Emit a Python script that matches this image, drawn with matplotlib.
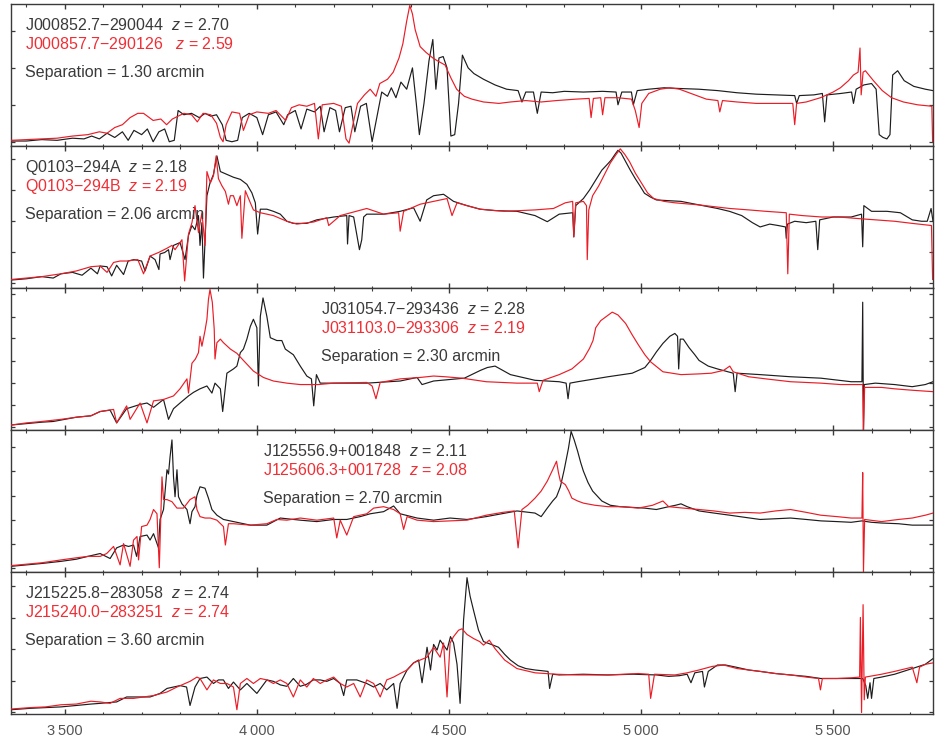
import numpy as np
import matplotlib
matplotlib.use("Agg")
import matplotlib.pyplot as plt
from matplotlib.ticker import MultipleLocator, FixedLocator, FuncFormatter

plt.rcParams['font.family'] = ['Liberation Sans', 'DejaVu Sans']
plt.rcParams['mathtext.fontset'] = 'custom'
plt.rcParams['mathtext.it'] = 'Liberation Sans:italic'
plt.rcParams['mathtext.rm'] = 'Liberation Sans'

# ---------------- data (wavelength in Angstrom, normalised flux) ----------------
p1_black = [(3360,0.035),(3400,0.035),(3440,0.045),(3480,0.04),(3520,0.055),(3550,0.05),(3570,0.07),
    (3590,0.05),(3610,0.09),(3630,0.06),(3650,0.10),(3665,0.04),(3680,0.11),(3700,0.08),(3715,0.12),
    (3730,0.03),(3745,0.10),(3760,0.12),(3772,0.03),(3785,0.04),(3795,0.25),(3810,0.22),(3830,0.23),
    (3850,0.20),(3865,0.23),(3880,0.21),(3895,0.22),(3910,0.15),(3920,0.04),(3935,0.03),(3950,0.04),
    (3962,0.20),(3980,0.23),(4000,0.20),(4015,0.08),(4030,0.22),(4050,0.24),(4070,0.15),(4080,0.22),
    (4100,0.25),(4115,0.12),(4130,0.26),(4150,0.24),(4165,0.28),(4175,0.10),(4190,0.27),(4205,0.25),
    (4215,0.10),(4230,0.27),(4245,0.28),(4255,0.10),(4270,0.28),(4285,0.30),(4300,0.03),(4312,0.20),
    (4325,0.38),(4340,0.35),(4350,0.41),(4362,0.34),(4375,0.45),(4390,0.40),(4405,0.55),(4415,0.30),
    (4423,0.08),(4435,0.30),(4448,0.60),(4458,0.75),(4466,0.40),(4474,0.62),(4485,0.63),(4495,0.55),
    (4505,0.07),(4515,0.08),(4525,0.30),(4535,0.64),(4550,0.55),(4565,0.51),(4590,0.47),(4620,0.43),
    (4650,0.40),(4680,0.39),(4690,0.31),(4700,0.38),(4720,0.38),(4730,0.23),(4740,0.38),(4770,0.375),
    (4800,0.385),(4850,0.38),(4900,0.385),(4935,0.38),(4940,0.29),(4950,0.38),(4975,0.38),(4980,0.29),
    (4990,0.39),(5020,0.40),(5060,0.41),(5100,0.405),(5150,0.40),(5200,0.39),(5250,0.375),(5300,0.365),
    (5350,0.36),(5400,0.355),(5405,0.30),(5412,0.355),(5450,0.36),(5472,0.37),(5478,0.17),(5484,0.36),
    (5520,0.37),(5548,0.38),(5553,0.30),(5560,0.40),(5580,0.43),(5600,0.44),(5612,0.40),(5620,0.08),
    (5630,0.06),(5640,0.05),(5648,0.08),(5655,0.50),(5668,0.53),(5685,0.46),(5710,0.42),(5740,0.40),
    (5760,0.39)]

p1_red = [(3360,0.04),(3400,0.045),(3440,0.05),(3480,0.055),(3520,0.07),(3560,0.08),(3590,0.10),
    (3610,0.09),(3630,0.13),(3650,0.15),(3670,0.20),(3690,0.23),(3705,0.23),(3715,0.21),(3730,0.18),
    (3750,0.19),(3765,0.15),(3780,0.19),(3795,0.21),(3810,0.23),(3830,0.22),(3845,0.17),(3860,0.23),
    (3880,0.22),(3895,0.16),(3905,0.06),(3912,0.03),(3920,0.15),(3935,0.24),(3955,0.23),(3965,0.11),
    (3980,0.22),(4000,0.24),(4030,0.23),(4050,0.25),(4075,0.18),(4090,0.27),(4110,0.29),(4130,0.28),
    (4150,0.30),(4160,0.05),(4170,0.29),(4200,0.30),(4220,0.28),(4232,0.05),(4240,0.02),(4250,0.15),
    (4262,0.30),(4280,0.36),(4295,0.40),(4310,0.35),(4320,0.44),(4340,0.47),(4355,0.52),(4370,0.62),
    (4380,0.72),(4390,0.88),(4398,0.99),(4405,0.93),(4412,0.82),(4425,0.70),(4440,0.66),(4458,0.62),
    (4470,0.60),(4490,0.57),(4505,0.48),(4520,0.40),(4540,0.35),(4560,0.33),(4590,0.31),(4630,0.30),
    (4660,0.31),(4700,0.32),(4740,0.31),(4780,0.32),(4830,0.33),(4865,0.335),(4870,0.20),(4876,0.335),
    (4895,0.34),(4900,0.22),(4906,0.34),(4940,0.34),(4975,0.33),(4985,0.25),(4995,0.13),(5002,0.30),
    (5020,0.37),(5050,0.40),(5075,0.41),(5100,0.40),(5130,0.37),(5170,0.33),(5200,0.32),(5205,0.24),
    (5212,0.32),(5250,0.31),(5300,0.30),(5350,0.30),(5395,0.30),(5400,0.15),(5405,0.30),(5430,0.31),
    (5467,0.34),(5500,0.38),(5519,0.41),(5540,0.46),(5553,0.50),(5565,0.52),(5570,0.69),(5573,0.36),
    (5578,0.52),(5584,0.53),(5605,0.46),(5628,0.39),(5652,0.34),(5683,0.31),(5720,0.29),(5757,0.28),
    (5759,0.03)]

p2_black = [(3360,0.056),(3400,0.065),(3440,0.08),(3470,0.07),(3490,0.10),(3520,0.11),(3545,0.09),
    (3568,0.14),(3585,0.10),(3592,0.155),(3610,0.15),(3622,0.085),(3635,0.16),(3653,0.095),(3665,0.19),
    (3680,0.20),(3700,0.19),(3709,0.12),(3722,0.225),(3735,0.20),(3745,0.13),(3748,0.24),(3760,0.25),
    (3770,0.27),(3774,0.20),(3783,0.30),(3800,0.32),(3813,0.20),(3822,0.37),(3831,0.44),(3839,0.41),
    (3848,0.51),(3852,0.30),(3857,0.46),(3861,0.07),(3870,0.65),(3878,0.74),(3887,0.80),(3896,0.93),
    (3905,0.82),(3922,0.80),(3939,0.78),(3957,0.765),(3974,0.73),(3987,0.67),(3996,0.60),(4002,0.38),
    (4009,0.555),(4026,0.555),(4043,0.54),(4061,0.52),(4078,0.47),(4095,0.455),(4130,0.455),(4156,0.48),
    (4200,0.50),(4234,0.51),(4236,0.31),(4240,0.51),(4252,0.50),(4267,0.27),(4273,0.34),(4278,0.50),
    (4286,0.52),(4330,0.52),(4373,0.54),(4408,0.565),(4425,0.47),(4442,0.62),(4460,0.65),(4486,0.66),
    (4512,0.61),(4547,0.58),(4581,0.555),(4620,0.545),(4677,0.54),(4724,0.51),(4756,0.467),(4787,0.52),
    (4822,0.53),(4825,0.36),(4830,0.58),(4850,0.63),(4866,0.69),(4882,0.76),(4898,0.83),(4912,0.87),
    (4922,0.90),(4932,0.94),(4940,0.97),(4948,0.95),(4960,0.89),(4972,0.83),(4985,0.77),(4997,0.72),
    (5009,0.667),(5025,0.64),(5040,0.62),(5070,0.615),(5104,0.61),(5151,0.585),(5199,0.56),(5230,0.54),
    (5262,0.51),(5290,0.46),(5310,0.43),(5335,0.45),(5357,0.44),(5376,0.43),(5378,0.35),(5381,0.45),
    (5400,0.47),(5430,0.46),(5455,0.47),(5460,0.27),(5465,0.48),(5500,0.50),(5547,0.50),(5574,0.52),
    (5577,0.29),(5580,0.58),(5600,0.54),(5640,0.54),(5675,0.53),(5706,0.48),(5730,0.47),(5745,0.47),
    (5755,0.56),(5760,0.47)]

p2_red = [(3360,0.06),(3400,0.07),(3440,0.08),(3490,0.10),(3530,0.12),(3568,0.15),(3592,0.155),
    (3610,0.11),(3627,0.18),(3644,0.19),(3662,0.19),(3690,0.20),(3705,0.10),(3722,0.225),(3744,0.25),
    (3766,0.28),(3779,0.30),(3787,0.27),(3805,0.34),(3812,0.05),(3822,0.38),(3831,0.46),(3839,0.58),
    (3848,0.39),(3857,0.53),(3865,0.30),(3870,0.82),(3879,0.74),(3887,0.79),(3894,0.93),(3900,0.77),
    (3909,0.72),(3918,0.68),(3926,0.59),(3931,0.65),(3939,0.65),(3948,0.58),(3957,0.65),(3961,0.35),
    (3970,0.685),(3983,0.60),(3991,0.55),(4009,0.53),(4043,0.51),(4078,0.47),(4104,0.45),(4148,0.465),
    (4182,0.495),(4187,0.44),(4217,0.51),(4286,0.56),(4330,0.52),(4369,0.53),(4373,0.40),(4382,0.54),
    (4425,0.59),(4460,0.61),(4495,0.63),(4508,0.51),(4521,0.60),(4547,0.58),(4581,0.555),(4645,0.54),
    (4724,0.55),(4772,0.56),(4803,0.60),(4822,0.61),(4825,0.36),(4830,0.60),(4850,0.61),(4858,0.58),
    (4860,0.20),(4864,0.55),(4874,0.65),(4890,0.72),(4905,0.80),(4920,0.88),(4935,0.94),(4946,0.98),
    (4958,0.94),(4970,0.89),(4985,0.81),(5001,0.74),(5017,0.67),(5033,0.63),(5060,0.61),(5088,0.60),
    (5151,0.585),(5231,0.56),(5280,0.55),(5325,0.54),(5378,0.53),(5382,0.10),(5386,0.52),(5420,0.51),
    (5470,0.50),(5515,0.50),(5560,0.49),(5610,0.48),(5660,0.47),(5706,0.455),(5756,0.44),(5759,0.06)]

p3_black = [(3360,0.035),(3400,0.045),(3440,0.055),(3470,0.06),(3490,0.07),(3530,0.09),(3568,0.10),
    (3592,0.13),(3618,0.14),(3635,0.05),(3661,0.15),(3696,0.18),(3714,0.19),(3731,0.16),(3757,0.215),
    (3770,0.075),(3783,0.15),(3800,0.19),(3822,0.24),(3835,0.265),(3852,0.29),(3870,0.31),(3883,0.26),
    (3891,0.33),(3905,0.29),(3911,0.13),(3922,0.40),(3939,0.43),(3948,0.45),(3957,0.545),(3965,0.57),
    (3974,0.64),(3983,0.73),(3991,0.78),(4000,0.72),(4004,0.31),(4009,0.80),(4016,0.93),(4026,0.80),
    (4035,0.65),(4052,0.63),(4065,0.63),(4074,0.57),(4087,0.545),(4095,0.53),(4113,0.45),(4130,0.38),
    (4142,0.36),(4148,0.17),(4155,0.39),(4165,0.33),(4200,0.33),(4286,0.33),(4373,0.345),(4417,0.37),
    (4430,0.32),(4460,0.345),(4540,0.365),(4582,0.42),(4600,0.44),(4620,0.45),(4640,0.42),(4660,0.39),
    (4724,0.35),(4787,0.34),(4805,0.33),(4810,0.22),(4815,0.33),(4835,0.34),(4914,0.375),(4977,0.40),
    (5010,0.44),(5025,0.49),(5040,0.55),(5057,0.61),(5075,0.66),(5088,0.68),(5095,0.66),(5098,0.43),
    (5102,0.64),(5110,0.64),(5125,0.58),(5140,0.53),(5151,0.49),(5175,0.45),(5199,0.43),(5240,0.40),
    (5245,0.27),(5250,0.40),(5310,0.39),(5389,0.375),(5468,0.365),(5547,0.34),(5575,0.34),(5577,0.90),
    (5579,0.00),(5581,0.32),(5610,0.33),(5660,0.32),(5706,0.305),(5740,0.32),(5760,0.34)]

p3_red = [(3360,0.035),(3400,0.05),(3440,0.06),(3490,0.075),(3530,0.09),(3568,0.10),(3592,0.13),
    (3627,0.145),(3635,0.05),(3661,0.17),(3670,0.075),(3696,0.19),(3714,0.05),(3731,0.205),(3757,0.215),
    (3783,0.24),(3800,0.29),(3818,0.36),(3822,0.26),(3831,0.47),(3840,0.50),(3848,0.545),(3852,0.66),
    (3857,0.59),(3865,0.70),(3870,0.78),(3874,0.92),(3878,0.99),(3884,0.90),(3889,0.71),(3891,0.50),
    (3896,0.615),(3905,0.64),(3913,0.615),(3931,0.57),(3948,0.54),(3965,0.49),(3991,0.415),(4017,0.37),
    (4043,0.345),(4078,0.33),(4113,0.32),(4160,0.32),(4200,0.33),(4286,0.335),(4300,0.31),(4310,0.22),
    (4321,0.335),(4373,0.36),(4425,0.37),(4460,0.38),(4490,0.375),(4534,0.365),(4597,0.34),(4677,0.33),
    (4730,0.33),(4735,0.27),(4745,0.35),(4787,0.39),(4820,0.43),(4850,0.50),(4866,0.575),(4875,0.63),
    (4882,0.72),(4895,0.77),(4910,0.80),(4925,0.83),(4940,0.81),(4960,0.75),(4977,0.67),(4993,0.60),
    (5010,0.53),(5025,0.48),(5057,0.41),(5104,0.39),(5150,0.395),(5183,0.40),(5215,0.42),(5231,0.45),
    (5240,0.41),(5280,0.375),(5325,0.36),(5389,0.34),(5468,0.33),(5520,0.32),(5560,0.32),(5577,0.32),
    (5579,0.00),(5582,0.30),(5626,0.30),(5660,0.29),(5706,0.28),(5760,0.27)]

p4_black = [(3360,0.04),(3400,0.05),(3440,0.06),(3490,0.075),(3530,0.09),(3560,0.11),(3592,0.13),
    (3618,0.095),(3635,0.17),(3653,0.19),(3666,0.18),(3679,0.19),(3687,0.11),(3696,0.25),(3714,0.26),
    (3722,0.225),(3731,0.27),(3744,0.17),(3748,0.37),(3757,0.44),(3766,0.72),(3770,0.69),(3774,0.81),
    (3779,0.93),(3783,0.67),(3787,0.53),(3792,0.72),(3796,0.53),(3805,0.48),(3818,0.44),(3826,0.34),
    (3831,0.425),(3839,0.46),(3844,0.54),(3852,0.60),(3865,0.59),(3874,0.52),(3883,0.44),(3896,0.40),
    (3913,0.37),(3939,0.355),(3983,0.33),(4026,0.33),(4061,0.38),(4113,0.365),(4156,0.355),(4200,0.37),
    (4234,0.37),(4269,0.39),(4295,0.41),(4330,0.425),(4356,0.465),(4373,0.41),(4417,0.38),(4460,0.365),
    (4503,0.38),(4547,0.37),(4597,0.39),(4677,0.43),(4724,0.415),(4740,0.39),(4756,0.45),(4770,0.50),
    (4780,0.53),(4790,0.60),(4800,0.72),(4811,0.87),(4818,0.99),(4826,0.93),(4835,0.85),(4843,0.77),
    (4850,0.71),(4862,0.63),(4874,0.57),(4898,0.50),(4920,0.47),(4946,0.46),(5009,0.45),(5040,0.44),
    (5072,0.46),(5090,0.47),(5104,0.48),(5120,0.46),(5151,0.43),(5190,0.415),(5231,0.40),(5270,0.385),
    (5310,0.37),(5350,0.375),(5389,0.38),(5430,0.37),(5468,0.36),(5510,0.355),(5547,0.35),(5575,0.36),
    (5600,0.35),(5626,0.345),(5670,0.34),(5706,0.33),(5740,0.33),(5760,0.33)]

p4_red = [(3360,0.045),(3400,0.055),(3440,0.065),(3490,0.085),(3530,0.10),(3560,0.11),(3592,0.11),
    (3609,0.13),(3627,0.18),(3644,0.05),(3653,0.20),(3670,0.04),(3679,0.225),(3688,0.25),(3692,0.085),
    (3700,0.32),(3714,0.33),(3722,0.37),(3731,0.44),(3740,0.41),(3746,0.03),(3753,0.67),(3757,0.51),
    (3766,0.51),(3779,0.495),(3792,0.45),(3809,0.45),(3826,0.51),(3839,0.53),(3844,0.44),(3852,0.39),
    (3865,0.38),(3879,0.38),(3896,0.365),(3913,0.32),(3918,0.19),(3926,0.34),(3939,0.34),(3983,0.33),
    (4026,0.34),(4052,0.37),(4078,0.365),(4113,0.38),(4156,0.365),(4200,0.38),(4208,0.24),(4217,0.365),
    (4234,0.26),(4252,0.39),(4286,0.41),(4304,0.45),(4330,0.46),(4356,0.44),(4373,0.41),(4382,0.30),
    (4391,0.39),(4417,0.365),(4460,0.355),(4503,0.36),(4547,0.365),(4597,0.40),(4640,0.42),(4670,0.43),
    (4680,0.17),(4690,0.44),(4705,0.47),(4724,0.52),(4740,0.57),(4756,0.64),(4770,0.72),(4780,0.78),
    (4785,0.70),(4790,0.64),(4803,0.615),(4812,0.57),(4820,0.52),(4835,0.50),(4850,0.485),(4880,0.47),
    (4914,0.46),(4950,0.46),(4993,0.45),(5030,0.47),(5057,0.50),(5072,0.46),(5110,0.45),(5151,0.44),
    (5190,0.43),(5231,0.415),(5270,0.42),(5310,0.415),(5350,0.43),(5389,0.44),(5430,0.42),(5468,0.40),
    (5510,0.39),(5547,0.38),(5575,0.38),(5577,0.70),(5579,0.00),(5582,0.37),(5626,0.355),(5670,0.37),
    (5706,0.38),(5740,0.40),(5760,0.415)]

p5_black = [(3360,0.03),(3410,0.04),(3450,0.045),(3490,0.05),(3530,0.06),(3568,0.07),(3592,0.075),
    (3635,0.085),(3661,0.12),(3696,0.12),(3722,0.12),(3748,0.145),(3766,0.18),(3783,0.19),(3800,0.20),
    (3817,0.19),(3826,0.06),(3839,0.19),(3852,0.25),(3870,0.26),(3887,0.215),(3900,0.24),(3913,0.24),
    (3926,0.18),(3939,0.225),(3957,0.17),(3974,0.215),(4000,0.145),(4026,0.24),(4043,0.23),(4061,0.205),
    (4078,0.195),(4095,0.25),(4113,0.195),(4130,0.21),(4147,0.24),(4165,0.24),(4182,0.23),(4200,0.25),
    (4217,0.215),(4226,0.13),(4234,0.24),(4260,0.24),(4286,0.215),(4304,0.19),(4321,0.215),(4338,0.17),
    (4356,0.215),(4365,0.04),(4373,0.215),(4391,0.31),(4408,0.36),(4421,0.38),(4430,0.22),(4443,0.47),
    (4452,0.31),(4460,0.49),(4469,0.45),(4477,0.52),(4495,0.45),(4504,0.545),(4512,0.50),(4521,0.35),
    (4529,0.075),(4538,0.66),(4547,0.96),(4555,0.83),(4564,0.73),(4577,0.59),(4590,0.51),(4610,0.49),
    (4629,0.47),(4645,0.42),(4660,0.38),(4680,0.34),(4700,0.32),(4724,0.31),(4758,0.30),(4762,0.18),
    (4770,0.28),(4787,0.275),(4850,0.28),(4914,0.275),(4980,0.28),(5040,0.275),(5072,0.265),(5100,0.27),
    (5120,0.28),(5130,0.22),(5140,0.29),(5160,0.30),(5165,0.19),(5175,0.30),(5199,0.345),(5220,0.345),
    (5247,0.33),(5280,0.31),(5310,0.30),(5350,0.285),(5389,0.275),(5430,0.265),(5468,0.25),(5510,0.25),
    (5547,0.25),(5577,0.25),(5585,0.20),(5590,0.11),(5596,0.22),(5600,0.11),(5606,0.25),(5626,0.26),
    (5660,0.28),(5706,0.32),(5740,0.35),(5760,0.39)]

p5_red = [(3360,0.035),(3410,0.045),(3450,0.05),(3490,0.065),(3530,0.07),(3568,0.09),(3592,0.085),
    (3618,0.075),(3644,0.11),(3679,0.11),(3705,0.12),(3731,0.13),(3766,0.155),(3792,0.19),(3809,0.21),
    (3826,0.23),(3844,0.26),(3852,0.25),(3870,0.17),(3887,0.24),(3905,0.215),(3922,0.215),(3939,0.19),
    (3948,0.03),(3957,0.215),(3974,0.25),(3991,0.215),(4009,0.25),(4026,0.24),(4043,0.215),(4061,0.24),
    (4078,0.215),(4095,0.12),(4113,0.24),(4130,0.19),(4147,0.25),(4165,0.215),(4182,0.24),(4200,0.26),
    (4217,0.215),(4234,0.19),(4252,0.215),(4269,0.12),(4286,0.24),(4304,0.215),(4321,0.12),(4338,0.24),
    (4356,0.26),(4373,0.285),(4391,0.31),(4408,0.36),(4425,0.38),(4443,0.40),(4460,0.47),(4477,0.40),
    (4486,0.50),(4495,0.12),(4503,0.50),(4512,0.545),(4525,0.59),(4534,0.60),(4547,0.56),(4565,0.53),
    (4580,0.51),(4590,0.485),(4605,0.52),(4620,0.46),(4645,0.38),(4677,0.32),(4724,0.29),(4780,0.28),
    (4835,0.275),(4914,0.275),(4993,0.285),(5020,0.28),(5025,0.11),(5035,0.28),(5088,0.275),(5120,0.29),
    (5151,0.31),(5185,0.335),(5215,0.345),(5250,0.32),(5310,0.30),(5350,0.285),(5389,0.275),(5430,0.26),
    (5462,0.25),(5467,0.17),(5472,0.25),(5510,0.25),(5547,0.255),(5569,0.26),(5571,0.68),(5574,0.01),
    (5578,0.77),(5581,0.10),(5584,0.26),(5626,0.28),(5660,0.30),(5706,0.33),(5718,0.22),(5725,0.33),
    (5740,0.35),(5760,0.36)]

black_series = [p1_black, p2_black, p3_black, p4_black, p5_black]
red_series = [p1_red, p2_red, p3_red, p4_red, p5_red]

black_names = ["J000852.7\u2212290044  $z$ = 2.70", "Q0103\u2212294A  $z$ = 2.18",
               "J031054.7\u2212293436  $z$ = 2.28", "J125556.9+001848  $z$ = 2.11",
               "J215225.8\u2212283058  $z$ = 2.74"]
red_names = ["J000857.7\u2212290126   $z$ = 2.59", "Q0103\u2212294B  $z$ = 2.19",
             "J031103.0\u2212293306  $z$ = 2.19", "J125606.3+001728  $z$ = 2.08",
             "J215240.0\u2212283251  $z$ = 2.74"]
separations = ["Separation = 1.30 arcmin", "Separation = 2.06 arcmin",
               "Separation = 2.30 arcmin", "Separation = 2.70 arcmin",
               "Separation = 3.60 arcmin"]

ytick_sets = [[0.028, 0.289, 0.55, 0.81],
              [0.037, 0.254, 0.472, 0.690, 0.906],
              [0.023, 0.176, 0.333, 0.488, 0.646, 0.798, 0.956],
              [0.028, 0.195, 0.364, 0.533, 0.709, 0.878],
              [0.016, 0.232, 0.456, 0.678, 0.901]]
text_x = [0.0152, 0.0152, 0.336, 0.273, 0.0152]

xmin, xmax = 3360, 5760

# ---------------- figure ----------------
W, H = 949, 742
fig = plt.figure(figsize=(W / 100, H / 100), dpi=100)
left_px, right_px, top_px, ph = 11, 933, 4, 142

BLACK = '#1e1c1d'
RED = '#ea1d27'
TXT_BLACK = '#3a3a3a'
TXT_RED = '#ee2f36'
SPINE = '#3a3a3a'

for i in range(5):
    bottom = 1 - (top_px + ph * (i + 1)) / H
    ax = fig.add_axes([left_px / W, bottom, (right_px - left_px) / W, ph / H])
    bw, bf = np.array(black_series[i]).T
    rw, rf = np.array(red_series[i]).T
    ax.plot(bw, bf, color=BLACK, lw=0.85, zorder=2)
    ax.plot(rw, rf, color=RED, lw=0.85, zorder=3)
    ax.set_xlim(xmin, xmax)
    ax.set_ylim(0, 1)
    for s in ax.spines.values():
        s.set_color(SPINE)
        s.set_linewidth(1.0)
    ax.xaxis.set_major_locator(MultipleLocator(500))
    ax.xaxis.set_minor_locator(MultipleLocator(100))
    ax.yaxis.set_major_locator(FixedLocator(ytick_sets[i]))
    ax.tick_params(axis='x', which='major', direction='in', length=3.4, width=1.0,
                   color=SPINE, top=True, bottom=True)
    ax.tick_params(axis='x', which='minor', direction='in', length=1.8, width=0.8,
                   color=SPINE, top=True, bottom=True)
    ax.tick_params(axis='y', which='major', direction='in', length=2.9, width=0.9,
                   color=SPINE, left=True, right=True, labelleft=False)
    if i < 4:
        ax.tick_params(axis='x', labelbottom=False)
    else:
        ax.xaxis.set_major_formatter(FuncFormatter(
            lambda v, p: f"{int(v) // 1000}\u2009{int(v) % 1000:03d}"))
        ax.tick_params(axis='x', which='major', labelsize=10.5, labelcolor='#555555', pad=7)
    tx = text_x[i]
    ax.text(tx, 1 - 26 / ph, black_names[i], transform=ax.transAxes, fontsize=11.5,
            color=TXT_BLACK, va='baseline', ha='left')
    ax.text(tx, 1 - 45 / ph, red_names[i], transform=ax.transAxes, fontsize=11.5,
            color=TXT_RED, va='baseline', ha='left')
    ax.text(tx, 1 - 73 / ph, separations[i], transform=ax.transAxes, fontsize=11.5,
            color=TXT_BLACK, va='baseline', ha='left')

fig.savefig("out.png", dpi=100)
